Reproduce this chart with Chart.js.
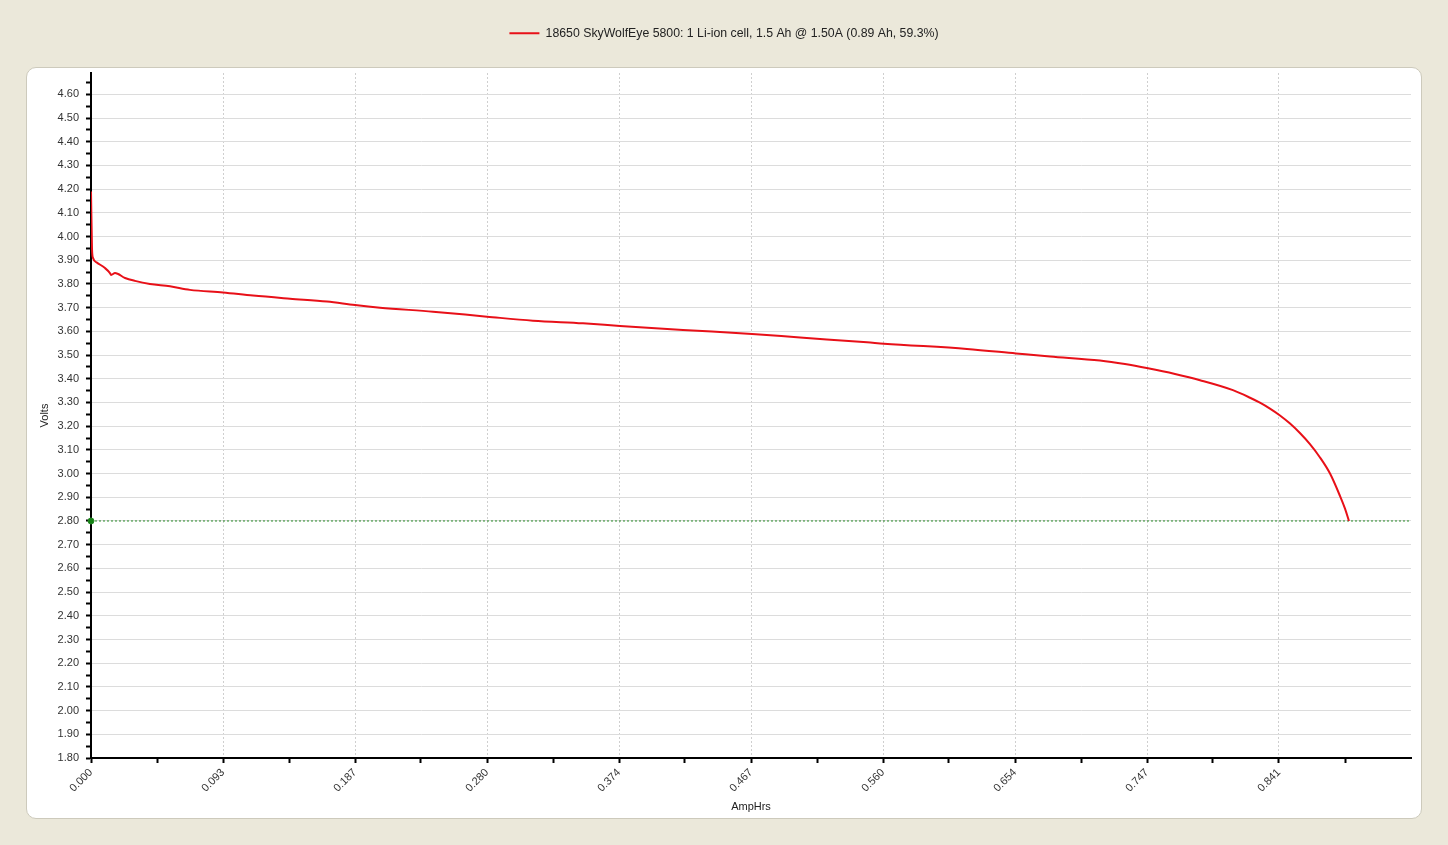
<!DOCTYPE html>
<html>
<head>
<meta charset="utf-8">
<script src="https://cdn.jsdelivr.net/npm/chart.js@4.4.0/dist/chart.umd.min.js"></script>
<style>
  html, body { margin: 0; padding: 0; background: #ebe8da; }
  #panel { position: absolute; left: 26px; top: 67px; width: 1394px; height: 750px; background: #fff; border: 1px solid #cdcabc; border-radius: 10px; }
  #wrap { position: absolute; left: 0; top: 0; width: 1448px; height: 845px; }
</style>
</head>
<body>
<div id="panel"></div>
<div id="wrap"><canvas id="chart" width="1448" height="845"></canvas></div>
<script>
var seriesLabel = '18650 SkyWolfEye 5800: 1 Li-ion cell, 1.5 Ah @ 1.50A (0.89 Ah, 59.3%)';

// discharge curve
var ampHrs = [0, 0.0007, 0.0014, 0.0042, 0.0099, 0.0134, 0.0142, 0.0170, 0.0241, 0.0311,
  0.0417, 0.0559, 0.0700, 0.0934, 0.1146, 0.1408, 0.1670, 0.1868, 0.2045, 0.2420,
  0.2802, 0.3127, 0.3481, 0.3743, 0.4189, 0.4677, 0.5017, 0.5491, 0.5611, 0.6198,
  0.6545, 0.6786, 0.7139, 0.7316, 0.7479, 0.7670, 0.7847, 0.8080, 0.8201, 0.8271,
  0.8342, 0.8413, 0.8484, 0.8554, 0.8625, 0.8696, 0.8767, 0.8838, 0.8873, 0.8901];
var volts = [4.19, 3.95, 3.91, 3.89, 3.867, 3.846, 3.838, 3.846, 3.825, 3.813,
  3.800, 3.790, 3.775, 3.764, 3.751, 3.738, 3.726, 3.711, 3.700, 3.683,
  3.662, 3.645, 3.634, 3.623, 3.606, 3.589, 3.574, 3.554, 3.548, 3.526,
  3.507, 3.494, 3.477, 3.462, 3.444, 3.420, 3.394, 3.352, 3.320, 3.299,
  3.274, 3.245, 3.211, 3.171, 3.124, 3.068, 3.000, 2.905, 2.852, 2.800];

var cutoffVolts = 2.80;
var xMajorTicks = [0, 0.0934, 0.1868, 0.2802, 0.3736, 0.4670, 0.5604, 0.6538, 0.7472, 0.8406];
var xMinorStep = 0.0467;
var xMax = 0.934;
var yMin = 1.80;
var yMax = 4.69;

var curve = [];
for (var i = 0; i < ampHrs.length; i++) {
    curve.push({x: ampHrs[i], y: volts[i]});
}

var font = 'Liberation Sans, Arial, sans-serif';

var legendSpace = {
    id: 'legendSpace',
    beforeInit: function(chart) {
        var fit = chart.legend.fit;
        chart.legend.fit = function() {
            fit.bind(chart.legend)();
            this.height = 56;
        };
    }
};

var ctx = document.getElementById('chart').getContext('2d');
new Chart(ctx, {
    type: 'line',
    data: {
        datasets: [
            {
                label: seriesLabel,
                data: curve,
                borderColor: 'rgb(232, 16, 24)',
                backgroundColor: 'rgb(232, 16, 24)',
                borderWidth: 2,
                pointRadius: 0,
                cubicInterpolationMode: 'monotone'
            },
            {
                label: 'cutoff',
                data: [{x: 0, y: cutoffVolts}, {x: xMax, y: cutoffVolts}],
                borderColor: 'rgb(40, 140, 40)',
                backgroundColor: 'rgb(20, 130, 20)',
                borderWidth: 1,
                borderDash: [2, 2],
                pointRadius: [3, 0],
                clip: false
            }
        ]
    },
    options: {
        responsive: false,
        animation: false,
        devicePixelRatio: 1,
        layout: { padding: { top: 17, right: 37, bottom: 0, left: 37 } },
        plugins: {
            legend: {
                position: 'top',
                labels: {
                    boxWidth: 30,
                    boxHeight: 0,
                    padding: 10,
                    color: '#222',
                    font: { family: font, size: 12.3 },
                    filter: function(item) { return item.datasetIndex === 0; }
                }
            },
            tooltip: { enabled: false }
        },
        scales: {
            x: {
                type: 'linear',
                min: 0,
                max: xMax,
                afterBuildTicks: function(axis) {
                    var t = [];
                    xMajorTicks.forEach(function(v) {
                        t.push({value: v});
                        t.push({value: v + xMinorStep});
                    });
                    axis.ticks = t;
                },
                afterFit: function(scale) { scale.height = 87; },
                ticks: {
                    autoSkip: false,
                    minRotation: 45,
                    maxRotation: 45,
                    color: '#333',
                    font: { family: font, size: 11 },
                    callback: function(value, index) {
                        return index % 2 === 0 ? value.toFixed(3) : '';
                    }
                },
                grid: {
                    color: function(c) { return c.index % 2 === 0 ? '#cfcfcf' : 'rgba(0,0,0,0)'; },
                    lineWidth: 1,
                    tickColor: '#000',
                    tickWidth: 2,
                    tickLength: 5
                },
                border: { color: '#000', width: 2, dash: [2, 2] },
                title: {
                    display: true,
                    text: 'AmpHrs',
                    color: '#222',
                    font: { family: font, size: 11 },
                    padding: 31
                }
            },
            y: {
                min: yMin,
                max: yMax,
                afterBuildTicks: function(axis) {
                    var t = [];
                    for (var k = 0; k <= 57; k++) {
                        t.push({value: Math.round((yMin + k * 0.05) * 100) / 100});
                    }
                    axis.ticks = t;
                },
                afterFit: function(scale) { scale.width = 54; },
                ticks: {
                    autoSkip: false,
                    padding: 7,
                    color: '#333',
                    font: { family: font, size: 11 },
                    callback: function(value, index) {
                        return index % 2 === 0 ? value.toFixed(2) : '';
                    }
                },
                grid: {
                    color: function(c) { return c.index % 2 === 0 ? '#dcdcdc' : 'rgba(0,0,0,0)'; },
                    lineWidth: 1,
                    tickColor: '#000',
                    tickWidth: 2,
                    tickLength: 5
                },
                border: { color: '#000', width: 2 },
                title: {
                    display: true,
                    text: 'Volts',
                    color: '#222',
                    font: { family: font, size: 11 },
                    padding: 1
                }
            }
        }
    },
    plugins: [legendSpace]
});
</script>
</body>
</html>
